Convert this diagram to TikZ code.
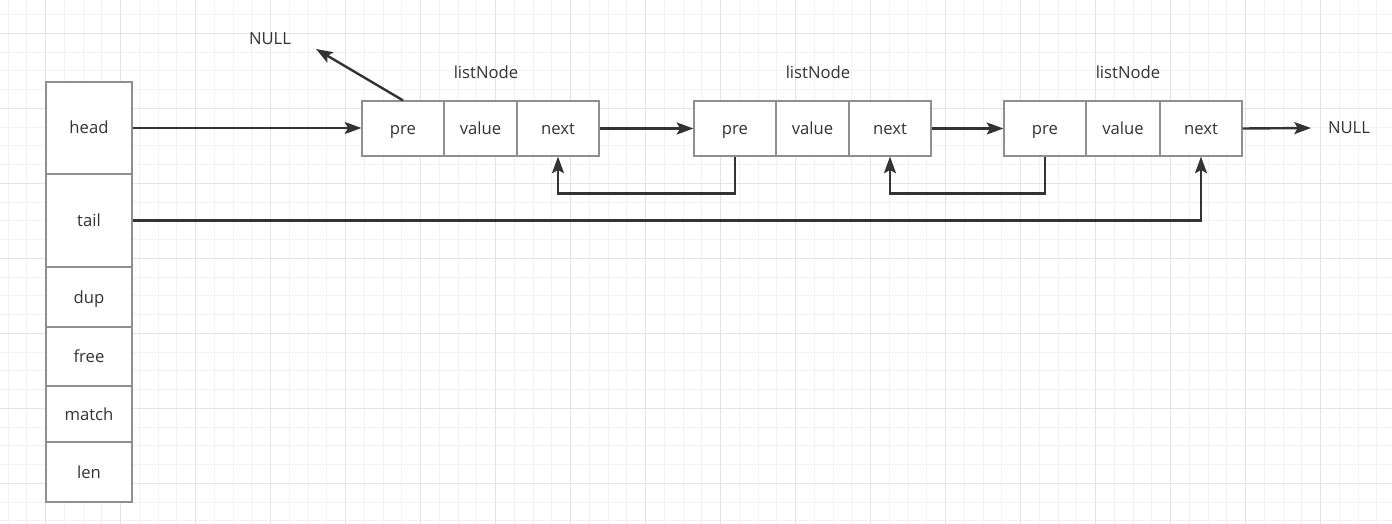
\documentclass[tikz,border=0pt]{standalone}
\usepackage{fontspec}
\setmainfont{Open Sans}
\usetikzlibrary{arrows.meta}
\definecolor{txt}{HTML}{333333}
\definecolor{edge}{HTML}{333333}
\definecolor{boxline}{HTML}{8F8F8F}
\definecolor{gminor}{HTML}{F2F2F2}
\definecolor{gmajor}{HTML}{E4E4E4}
\tikzset{
  cell/.style={draw=boxline, line width=0.9pt, fill=white, text=txt, inner sep=0pt,
    font=\fontsize{12.5}{14}\selectfont, text height=9.4pt, text depth=0.4pt,
    minimum width=#1*0.75pt},
  lbl/.style={text=txt, inner sep=0pt, font=\fontsize{12.5}{14}\selectfont,
    text height=9.4pt, text depth=0.4pt},
  arr/.style={draw=edge, line width=1.8pt, -{Stealth[length=12.5pt, width=9pt, inset=2.5pt]}},
  minorg/.style={draw=gminor, line width=0.75pt},
  majorg/.style={draw=gmajor, line width=0.75pt},
}
\begin{document}
\begin{tikzpicture}[x=0.75pt, y=-0.75pt]
\fill[white] (0,0) rectangle (1392,524);
\useasboundingbox (0,0) rectangle (1392,524);
% grid
\foreach \i in {0,...,74} {
  \pgfmathsetmacro\xx{8.2+18.75*\i}
  \draw[minorg] (\xx,0) -- (\xx,524);
}
\foreach \i in {0,...,27} {
  \pgfmathsetmacro\yy{14.55+18.75*\i}
  \draw[minorg] (0,\yy) -- (1392,\yy);
}
\foreach \i in {0,...,18} {
  \pgfmathsetmacro\xx{45.7+75*\i}
  \draw[majorg] (\xx,0) -- (\xx,524);
}
\foreach \i in {0,...,6} {
  \pgfmathsetmacro\yy{33.3+75*\i}
  \draw[majorg] (0,\yy) -- (1392,\yy);
}
% left struct
\node[cell=86, minimum height=92*0.75pt] (head) at (89,128) {head};
\node[cell=86, minimum height=93*0.75pt] (tail) at (89,220.5) {tail};
\node[cell=86, minimum height=60*0.75pt] (dup) at (89,297) {dup};
\node[cell=86, minimum height=59*0.75pt] (free) at (89,356.5) {free};
\node[cell=86, minimum height=56*0.75pt] (match) at (89,414) {match};
\node[cell=86, minimum height=60*0.75pt] (len) at (89,472) {len};
% list nodes
\node[cell=82, minimum height=55*0.75pt] (pre1) at (403,128.5) {pre};
\node[cell=73, minimum height=55*0.75pt] (val1) at (480.5,128.5) {value};
\node[cell=82, minimum height=55*0.75pt] (next1) at (558,128.5) {next};
\node[cell=82, minimum height=55*0.75pt] (pre2) at (735,128.5) {pre};
\node[cell=73, minimum height=55*0.75pt] (val2) at (812.5,128.5) {value};
\node[cell=82, minimum height=55*0.75pt] (next2) at (890,128.5) {next};
\node[cell=82, minimum height=55*0.75pt] (pre3) at (1045,128.5) {pre};
\node[cell=74, minimum height=55*0.75pt] (val3) at (1123,128.5) {value};
\node[cell=82, minimum height=55*0.75pt] (next3) at (1201,128.5) {next};
% labels
\node[lbl] (ln1) at (486,73) {listNode};
\node[lbl] (ln2) at (818,73) {listNode};
\node[lbl] (ln3) at (1128,73) {listNode};
\node[lbl] (null1) at (270,39) {NULL};
\node[lbl] (null2) at (1349,128) {NULL};
\coordinate (n1tip) at (316,49);
\coordinate (n2tip) at (1311,128);
% connectors
\draw[arr] (head.east) -- (head.east -| pre1.west);
\draw[arr] (next1.east) -- (pre2.west);
\draw[arr] (next2.east) -- (pre3.west);
\draw[arr] (next3.east) -- (n2tip);
\draw[arr] (pre1.north) -- (n1tip);
\draw[arr] (pre2.south) -- ++(0,37) -| (next1.south);
\draw[arr] (pre3.south) -- ++(0,37) -| (next2.south);
\draw[arr] (tail.east) -| (next3.south);
\end{tikzpicture}
\end{document}
